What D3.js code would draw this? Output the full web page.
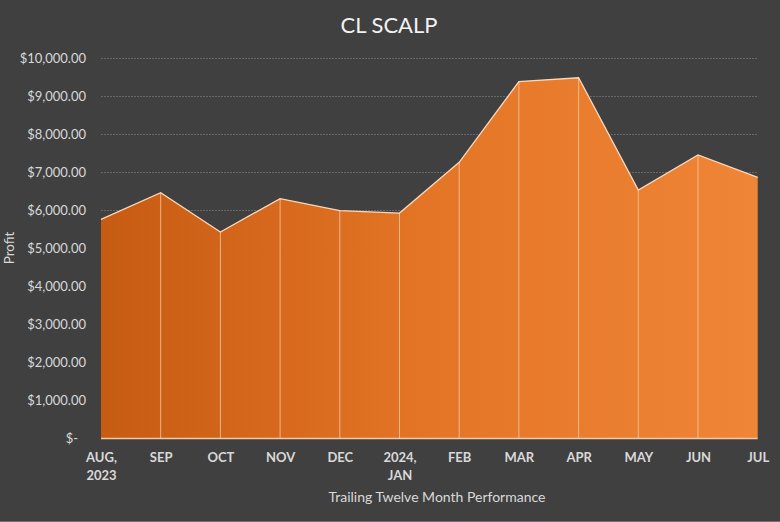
<!DOCTYPE html>
<html><head><meta charset="utf-8">
<script src="https://cdn.jsdelivr.net/npm/d3@7"></script>
<style>html,body{margin:0;padding:0;background:#404040;}svg{display:block;}</style>
</head><body>
<svg id="c" width="780" height="522"></svg>
<script>
const months = ["AUG,|2023","SEP","OCT","NOV","DEC","2024,|JAN","FEB","MAR","APR","MAY","JUN","JUL"];
const profit = [5755, 6455, 5420, 6300, 5985, 5920, 7255, 9380, 9480, 6525, 7450, 6860];
const yTicks = [0,1000,2000,3000,4000,5000,6000,7000,8000,9000,10000];
const title = "CL SCALP";
const xTitle = "Trailing Twelve Month Performance";
const yTitle = "Profit";

const W=780,H=522;
const svg=d3.select("#c");
const font="Lato, 'Open Sans', sans-serif";
svg.append("rect").attr("width",W).attr("height",H).attr("fill","#404040");
svg.append("line").attr("x1",0).attr("x2",W).attr("y1",521.5).attr("y2",521.5).attr("stroke","#707070");

const x=d3.scalePoint().domain(months).range([101,757.7]);
const y=d3.scaleLinear().domain([0,10000]).range([438,58]);

const defs=svg.append("defs");
const g=defs.append("linearGradient").attr("id","gr").attr("gradientUnits","userSpaceOnUse")
  .attr("x1",101).attr("x2",757.7).attr("y1",0).attr("y2",0);
g.append("stop").attr("offset","0").attr("stop-color","#c65b12");
g.append("stop").attr("offset","0.5").attr("stop-color","#e47526");
g.append("stop").attr("offset","1").attr("stop-color","#ef8537");

// gridlines
svg.append("g").selectAll("line").data(yTicks.filter(d=>d>0)).join("line")
  .attr("x1",101).attr("x2",757.7).attr("y1",d=>y(d)+0.5).attr("y2",d=>y(d)+0.5)
  .attr("stroke","#686868").attr("stroke-width",1).attr("stroke-dasharray","2,1");

// area
const data=months.map((m,i)=>({m,v:profit[i]}));
svg.append("path").datum(data)
  .attr("d",d3.area().x(d=>x(d.m)).y0(y(0)).y1(d=>y(d.v)))
  .attr("fill","url(#gr)");
// drop lines
svg.append("g").selectAll("line").data(data.slice(1,-1)).join("line")
  .attr("x1",d=>x(d.m)).attr("x2",d=>x(d.m)).attr("y1",d=>y(d.v)).attr("y2",y(0))
  .attr("stroke","#f6c8a0").attr("stroke-width",1).attr("opacity",0.8);
// top line
svg.append("path").datum(data)
  .attr("d",d3.line().x(d=>x(d.m)).y(d=>y(d.v)))
  .attr("fill","none").attr("stroke","#fbd8bc").attr("stroke-width",1.3);
// baseline
svg.append("line").attr("x1",101).attr("x2",757.7).attr("y1",y(0)+0.5).attr("y2",y(0)+0.5)
  .attr("stroke","#f2c9a6").attr("stroke-width",1.5);

// y axis labels
const fmt=d=>d===0?"$-":"$"+d3.format(",.2f")(d);
const yAxis=svg.append("g").attr("transform","translate(86,0)")
  .call(d3.axisLeft(y).tickValues(yTicks).tickFormat(fmt).tickSize(0).tickPadding(0));
yAxis.select(".domain").remove();
yAxis.selectAll("text").attr("fill","#d9d9d9").style("font-family",font).style("font-size","13px")
  .attr("dy","0.35em");
yAxis.selectAll("text").filter(d=>d===0).attr("dx","-8");

// x axis labels
const xAxis=svg.append("g").attr("transform","translate(0,438)")
  .call(d3.axisBottom(x).tickSize(0).tickPadding(0).tickFormat(""));
xAxis.select(".domain").remove();
xAxis.selectAll(".tick").each(function(d){
  const parts=d.split("|");
  const t=d3.select(this).append("text").attr("fill","#d9d9d9").attr("text-anchor","middle")
    .style("font-family",font).style("font-size","13px").style("font-weight","bold");
  parts.forEach((p,i)=>t.append("tspan").attr("x",0).attr("y",24+i*18).text(p));
});

svg.append("text").attr("x",389).attr("y",33).attr("text-anchor","middle")
  .attr("fill","#f2f2f2").style("font-family",font).style("font-size","22px").text(title);
svg.append("text").attr("x",437).attr("y",502).attr("text-anchor","middle")
  .attr("fill","#d9d9d9").style("font-family",font).style("font-size","14px").text(xTitle);
svg.append("text").attr("transform","translate(14,248) rotate(-90)").attr("text-anchor","middle")
  .attr("fill","#d9d9d9").style("font-family",font).style("font-size","13.5px").text(yTitle);
</script>
</body></html>
